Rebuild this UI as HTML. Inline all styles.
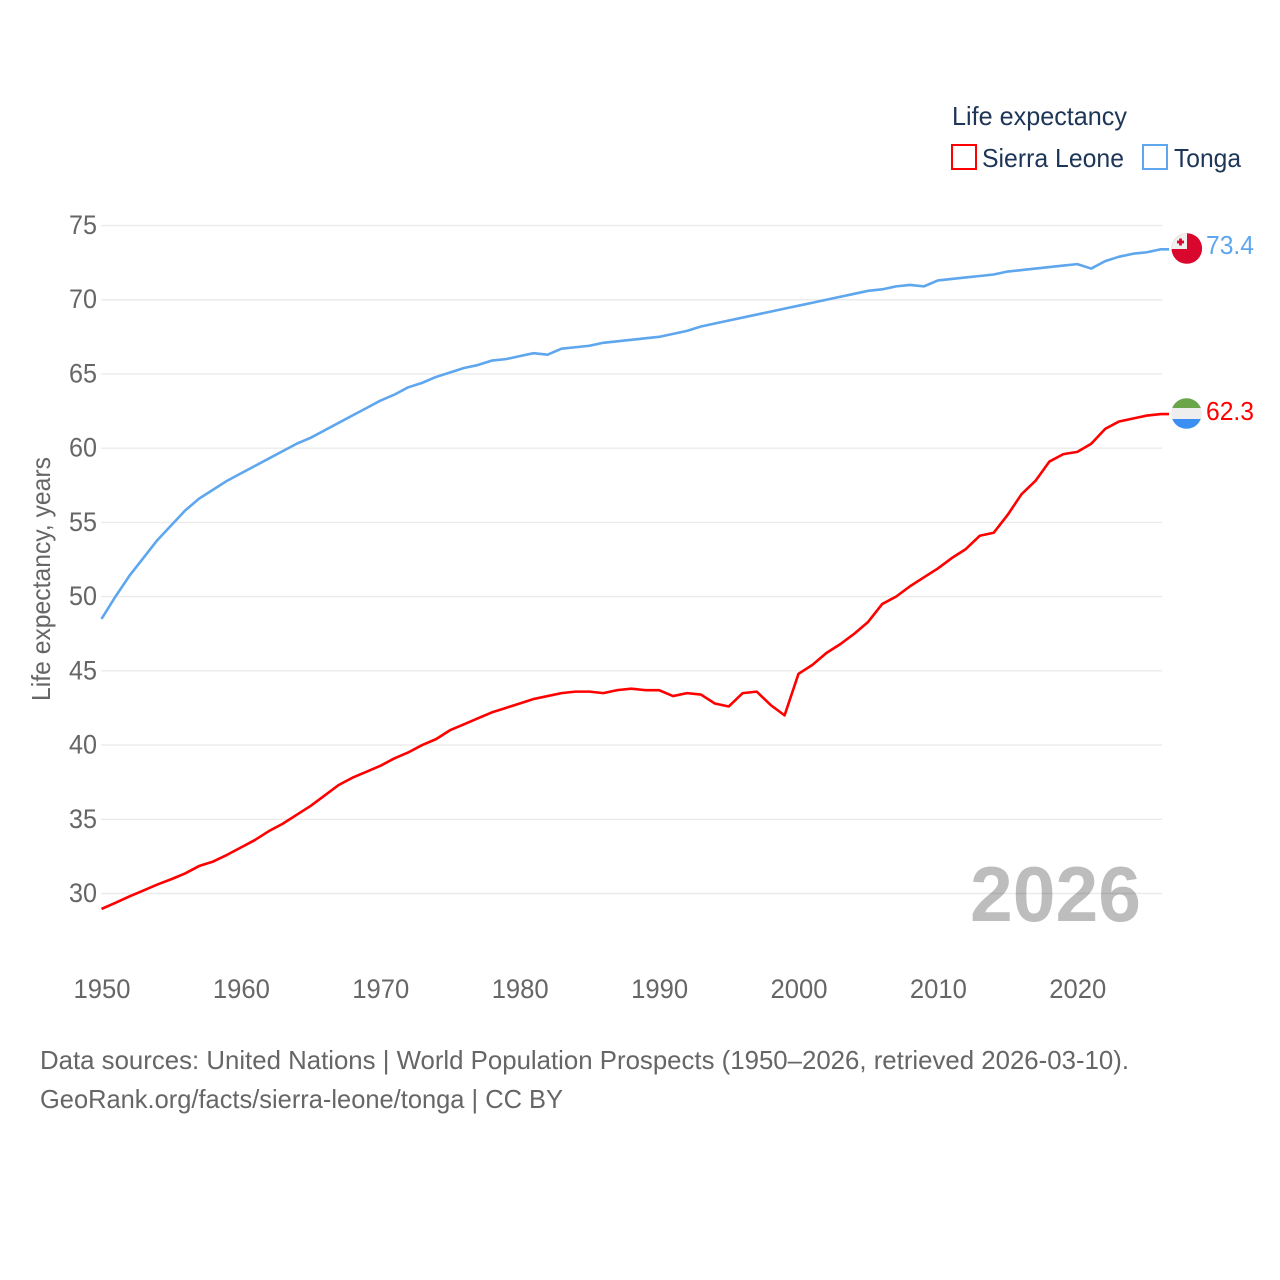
<!DOCTYPE html>
<html lang="en">
<head>
<meta charset="utf-8">
<title>Life expectancy: Sierra Leone and Tonga</title>
<style>
html,body{margin:0;padding:0;background:#fff;}
#chart{display:block;width:1280px;height:1280px;font-family:"Liberation Sans",sans-serif;}
</style>
</head>
<body>
<svg id="chart" xmlns="http://www.w3.org/2000/svg" width="1280" height="1280" viewBox="0 0 1280 1280">
  <rect width="1280" height="1280" fill="#fff"/>
  <text x="970" y="921" font-size="78" font-weight="700" fill="#bdbdbd" textLength="171" lengthAdjust="spacingAndGlyphs">2026</text>
  <g id="grid"></g>
  <g id="yticks"></g>
  <g id="xticks"></g>
  <text transform="translate(50,579) rotate(-90)" text-anchor="middle" font-size="26" fill="#666" textLength="244" lengthAdjust="spacingAndGlyphs">Life expectancy, years</text>
  <g id="series"></g>

  <g>
    <text x="952" y="125" font-size="26" fill="#1d3557" textLength="175" lengthAdjust="spacingAndGlyphs">Life expectancy</text>
    <g>
      <rect x="952" y="145" width="24" height="24" fill="#fff" stroke="#ff0000" stroke-width="2"/>
      <text x="982" y="167" font-size="26" fill="#1d3557" textLength="142" lengthAdjust="spacingAndGlyphs">Sierra Leone</text>
    </g>
    <g>
      <rect x="1143" y="145" width="24" height="24" fill="#fff" stroke="#5ea6ee" stroke-width="2"/>
      <text x="1174" y="167" font-size="26" fill="#1d3557" textLength="67" lengthAdjust="spacingAndGlyphs">Tonga</text>
    </g>
  </g>

  <defs>
    <clipPath id="clip-to"><circle cx="1186.8" cy="248.5" r="15.3"/></clipPath>
    <clipPath id="clip-sl"><circle cx="1186.5" cy="413.5" r="15.3"/></clipPath>
  </defs>
  <g clip-path="url(#clip-to)">
    <rect x="1170" y="232" width="34" height="34" fill="#d9062e"/>
    <rect x="1170" y="232" width="17" height="17" fill="#efefef"/>
    <rect x="1177" y="240.6" width="7" height="2.8" fill="#d9062e"/>
    <rect x="1179.1" y="238.5" width="2.8" height="7" fill="#d9062e"/>
  </g>
  <g clip-path="url(#clip-sl)">
    <rect x="1170" y="397" width="34" height="11" fill="#6aa549"/>
    <rect x="1170" y="408" width="34" height="11" fill="#eeeeee"/>
    <rect x="1170" y="419" width="34" height="12" fill="#3b8ff2"/>
  </g>
  <text x="1206" y="254" font-size="26" fill="#5ea6ee" textLength="48" lengthAdjust="spacingAndGlyphs">73.4</text>
  <text x="1206" y="420" font-size="26" fill="#ff0000" textLength="48" lengthAdjust="spacingAndGlyphs">62.3</text>

  <g>
    <text x="40" y="1069" font-size="26" fill="#666" textLength="1089" lengthAdjust="spacingAndGlyphs">Data sources: United Nations | World Population Prospects (1950–2026, retrieved 2026-03-10).</text>
    <text x="40" y="1108" font-size="26" fill="#666" textLength="523" lengthAdjust="spacingAndGlyphs">GeoRank.org/facts/sierra-leone/tonga | CC BY</text>
  </g>
</svg>
<script>
const startYear = 1950;
const yTickValues = [30, 35, 40, 45, 50, 55, 60, 65, 70, 75];
const xTickValues = [1950, 1960, 1970, 1980, 1990, 2000, 2010, 2020];
const sierraLeoneValues = [
  28.96,29.37,29.8,30.2,30.6,30.96,31.35,31.85,32.15,32.6,
  33.1,33.6,34.2,34.7,35.3,35.9,36.6,37.3,37.8,38.2,
  38.6,39.1,39.5,40.0,40.4,41.0,41.4,41.8,42.2,42.5,
  42.8,43.1,43.3,43.5,43.6,43.6,43.5,43.7,43.8,43.7,
  43.7,43.3,43.5,43.4,42.8,42.6,43.5,43.6,42.7,42.0,
  44.8,45.4,46.2,46.8,47.5,48.3,49.5,50.0,50.7,51.3,
  51.9,52.6,53.2,54.1,54.3,55.5,56.9,57.8,59.1,59.6,
  59.75,60.3,61.3,61.8,62.0,62.2,62.3
];
const tongaValues = [
  48.5,50.0,51.4,52.6,53.8,54.8,55.8,56.6,57.2,57.8,
  58.3,58.8,59.3,59.8,60.3,60.7,61.2,61.7,62.2,62.7,
  63.2,63.6,64.1,64.4,64.8,65.1,65.4,65.6,65.9,66.0,
  66.2,66.4,66.3,66.7,66.8,66.9,67.1,67.2,67.3,67.4,
  67.5,67.7,67.9,68.2,68.4,68.6,68.8,69.0,69.2,69.4,
  69.6,69.8,70.0,70.2,70.4,70.6,70.7,70.9,71.0,70.9,
  71.3,71.4,71.5,71.6,71.7,71.9,72.0,72.1,72.2,72.3,
  72.4,72.1,72.6,72.9,73.1,73.2,73.4
];

const NS = 'http://www.w3.org/2000/svg';
function xScale(year) { return 101.5 + (year - 1950) * 13.94; }
function yScale(v) { return 893.5 - (v - 30) * 14.844; }
function make(tag, attrs, parent) {
  const el = document.createElementNS(NS, tag);
  for (const k in attrs) el.setAttribute(k, attrs[k]);
  parent.appendChild(el);
  return el;
}

const gridG = document.getElementById('grid');
const yG = document.getElementById('yticks');
const xG = document.getElementById('xticks');
const seriesG = document.getElementById('series');

yTickValues.forEach(function (v) {
  const line = make('line', { x1: 101, x2: 1162, y1: yScale(v), y2: yScale(v), stroke: 'rgba(0,0,0,0.08)', 'stroke-width': 1.4 }, gridG);
  
  
  const t = make('text', { x: 97, y: yScale(v) + 8.5, 'text-anchor': 'end', 'font-size': 27, fill: '#666', textLength: 28, lengthAdjust: 'spacingAndGlyphs' }, yG);
  t.textContent = String(v);
  
  
});

xTickValues.forEach(function (y) {
  const t = make('text', { x: xScale(y) + 0.5, y: 998, 'text-anchor': 'middle', 'font-size': 27, fill: '#666', textLength: 57, lengthAdjust: 'spacingAndGlyphs' }, xG);
  t.textContent = String(y);
  
  
});

function drawSeries(values, color, name) {
  const pts = values.map(function (v, i) {
    return xScale(startYear + i).toFixed(2) + ',' + yScale(v).toFixed(2);
  });
  const lastY = yScale(values[values.length - 1]).toFixed(2);
  pts.push('1169,' + lastY);
  const line = make('polyline', { points: pts.join(' '), fill: 'none', stroke: color, 'stroke-width': 2.6, 'stroke-linejoin': 'round' }, seriesG);
  
  
}
drawSeries(tongaValues, '#5ea6ee', 'tonga-line');
drawSeries(sierraLeoneValues, '#ff0000', 'sierra-leone-line');
</script>
</body>
</html>
